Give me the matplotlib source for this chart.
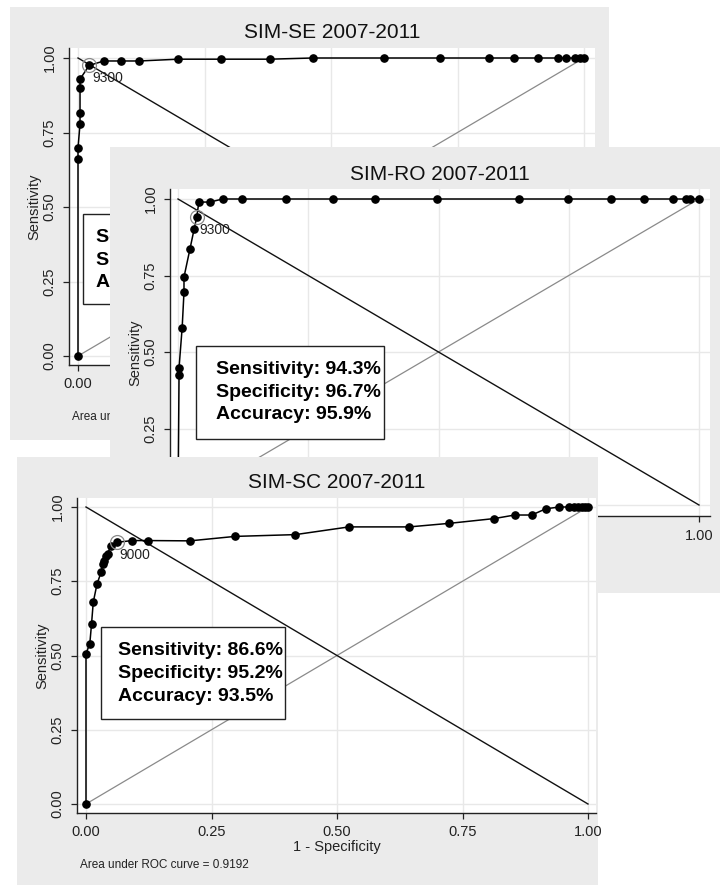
import matplotlib.pyplot as plt
from matplotlib.patches import Rectangle

plt.rcParams['font.family'] = ['Liberation Sans', 'DejaVu Sans']

W, H = 720, 885

# ---- data ----
ticks = [0.0, 0.25, 0.5, 0.75, 1.0]
tick_labels = ["0.00", "0.25", "0.50", "0.75", "1.00"]

se_title = "SIM-SE 2007-2011"
se_fpr = [0, 0, 0, 0.004, 0.004, 0.004, 0.004, 0.022, 0.051, 0.085, 0.121,
          0.198, 0.283, 0.379, 0.464, 0.605, 0.715, 0.812, 0.862, 0.909,
          0.949, 0.964, 0.982, 0.992, 1.0]
se_sens = [0, 0.661, 0.698, 0.779, 0.816, 0.899, 0.929, 0.975, 0.990, 0.990,
           0.990, 0.996, 0.996, 0.996, 1, 1, 1, 1, 1, 1, 1, 1, 1, 1, 1]
se_cut = 7
se_cut_label = "9300"
se_stats = ["Sensitivity: 97.5%", "Specificity: 97.8%", "Accuracy: 97.7%"]
se_auc = "Area under ROC curve = 0.9946"

ro_title = "SIM-RO 2007-2011"
ro_fpr = [0, 0.002, 0.002, 0.008, 0.0115, 0.0115, 0.023, 0.031, 0.036, 0.040,
          0.061, 0.086, 0.123, 0.207, 0.298, 0.378, 0.497, 0.655, 0.749,
          0.831, 0.894, 0.950, 0.975, 0.983, 1.0]
ro_sens = [0, 0.425, 0.448, 0.58, 0.696, 0.745, 0.837, 0.902, 0.941, 0.99,
           0.99, 1, 1, 1, 1, 1, 1, 1, 1, 1, 1, 1, 1, 1, 1]
ro_cut = 8
ro_cut_label = "9300"
ro_stats = ["Sensitivity: 94.3%", "Specificity: 96.7%", "Accuracy: 95.9%"]
ro_auc = "Area under ROC curve = 0.9937"

sc_title = "SIM-SC 2007-2011"
sc_fpr = [0, 0, 0.0076, 0.011, 0.0145, 0.022, 0.030, 0.0335, 0.0366, 0.040,
          0.043, 0.0495, 0.061, 0.092, 0.124, 0.207, 0.297, 0.417, 0.524,
          0.644, 0.724, 0.813, 0.854, 0.888, 0.916, 0.943, 0.963, 0.973,
          0.981, 0.989, 0.995, 1.0]
sc_sens = [0, 0.506, 0.540, 0.606, 0.680, 0.741, 0.780, 0.808, 0.819, 0.836,
           0.843, 0.868, 0.881, 0.887, 0.887, 0.886, 0.901, 0.907, 0.933,
           0.933, 0.945, 0.961, 0.973, 0.973, 0.994, 1, 1, 1, 1, 1, 1, 1]
sc_cut = 12
sc_cut_label = "9000"
sc_stats = ["Sensitivity: 86.6%", "Specificity: 95.2%", "Accuracy: 93.5%"]
sc_auc = "Area under ROC curve = 0.9192"


def fig_box(l, t, r, b):
    return [l / W, 1 - b / H, (r - l) / W, (b - t) / H]


def draw_panel(fig, bg, axpx, cal, fpr, sens, cut, cut_label, title, stats,
               auc, sbox, stext):
    # grey panel background, it also carries the panel's outer texts
    bga = fig.add_axes(fig_box(*bg))
    bga.set_facecolor('#ebebeb')
    bga.set_xticks([])
    bga.set_yticks([])
    for s in bga.spines.values():
        s.set_visible(False)

    l, t, r, b = axpx
    x0, x1, y1, y0 = cal
    ax = fig.add_axes(fig_box(l, t, r, b))
    ax.set_facecolor('white')
    ax.set_xlim((l - x0) / (x1 - x0), (r - x0) / (x1 - x0))
    ax.set_ylim((y0 - b) / (y0 - y1), (y0 - t) / (y0 - y1))

    ax.set_xticks(ticks)
    ax.set_xticklabels(tick_labels)
    ax.set_yticks(ticks)
    ax.set_yticklabels(tick_labels, rotation=90, va='center')
    ax.tick_params(length=4, width=0.9, colors='#222222', labelsize=10.5,
                   pad=5)
    ax.grid(True, color='#e8e8e8', lw=1.0)
    ax.set_axisbelow(True)
    for side in ['top', 'right']:
        ax.spines[side].set_visible(False)
    for side in ['left', 'bottom']:
        ax.spines[side].set_color('#222222')
        ax.spines[side].set_linewidth(1.0)

    ax.plot([0, 1], [0, 1], color='#8a8a8a', lw=0.9, zorder=2)
    ax.plot([0, 1], [1, 0], color='#111111', lw=1.0, zorder=2)
    ax.plot(fpr, sens, color='black', lw=1.1, marker='o', ms=5.2,
            mfc='black', mec='black', zorder=3)
    ax.plot(fpr[cut], sens[cut], 'o', ms=10, mfc='none', mec='#8a8a8a',
            mew=0.9, zorder=4)
    ax.annotate(cut_label, (fpr[cut], sens[cut]), xytext=(2, -9),
                textcoords='offset points', ha='left', va='center',
                fontsize=10, color='#222222', zorder=5)

    bx0, by0, bx1, by1 = sbox
    ax.add_patch(Rectangle((bx0, by0), bx1 - bx0, by1 - by0, facecolor='white',
                           edgecolor='#222222', lw=1.0, zorder=6))
    ax.text(stext[0], stext[1], "\n".join(stats), fontsize=14,
            fontweight='bold', ha='left', va='center', linespacing=1.45,
            color='black', zorder=7)

    tf = fig.transFigure
    cx = (l + r) / 2
    bga.text(cx / W, 1 - (t - 15) / H, title, ha='center', va='center',
             fontsize=15, color='#111111', transform=tf)
    bga.text((l - 35) / W, 1 - (t + b) / 2 / H, "Sensitivity", rotation=90,
             ha='center', va='center', fontsize=10.5, color='#222222',
             transform=tf)
    xc = x0 + 0.5 * (x1 - x0)
    bga.text(xc / W, 1 - (b + 34) / H, "1 - Specificity", ha='center',
             va='center', fontsize=10.5, color='#222222', transform=tf)
    bga.text((l + 3) / W, 1 - (b + 52) / H, auc, ha='left', va='center',
             fontsize=8.5, color='#222222', transform=tf)
    return ax


fig = plt.figure(figsize=(7.2, 8.85), dpi=100)
fig.patch.set_facecolor('white')

draw_panel(fig, (10, 7, 609, 440), (69, 48, 595, 365), (78, 584, 58, 356),
           se_fpr, se_sens, se_cut, se_cut_label, se_title, se_stats, se_auc,
           (0.01, 0.174, 0.37, 0.477), (0.036, 0.322))
draw_panel(fig, (110, 147, 720, 593), (170, 189, 710, 516), (178, 699, 199, 505),
           ro_fpr, ro_sens, ro_cut, ro_cut_label, ro_title, ro_stats, ro_auc,
           (0.035, 0.216, 0.395, 0.52), (0.073, 0.369))
draw_panel(fig, (17, 457, 598, 885), (77, 498, 596, 813), (86, 588, 507, 804),
           sc_fpr, sc_sens, sc_cut, sc_cut_label, sc_title, sc_stats, sc_auc,
           (0.030, 0.286, 0.396, 0.595), (0.063, 0.439))

fig.savefig("out.png", dpi=100)
